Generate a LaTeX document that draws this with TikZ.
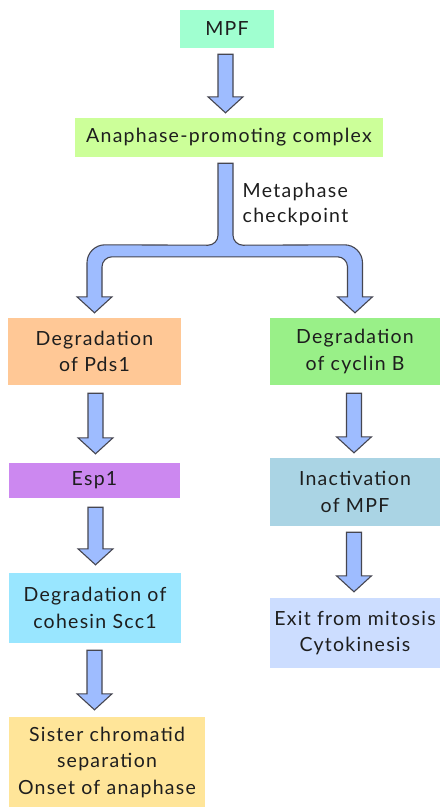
\documentclass[tikz,border=0pt]{standalone}
\usepackage{fontspec}
\setmainfont{Lato}[LetterSpace=6.5]
\usetikzlibrary{calc}
\definecolor{txt}{RGB}{30,30,30}
\definecolor{arrowfill}{RGB}{158,188,255}
\definecolor{arrowline}{RGB}{70,70,80}
\definecolor{cmpf}{RGB}{160,255,208}
\definecolor{capc}{RGB}{204,255,153}
\definecolor{cpds}{RGB}{255,200,150}
\definecolor{ccyc}{RGB}{153,240,136}
\definecolor{cesp}{RGB}{204,136,240}
\definecolor{ccoh}{RGB}{153,230,255}
\definecolor{csis}{RGB}{255,229,153}
\definecolor{cina}{RGB}{170,212,228}
\definecolor{cexit}{RGB}{204,221,255}
\tikzset{
  box/.style={inner sep=0pt, text=txt, align=center, font=\fontsize{19.5}{26.5}\selectfont},
  fatarrow/.style={fill=arrowfill, draw=arrowline, line width=1.1pt, line join=miter},
  fat/.style={fatarrow, to path={let \p1=(\tikztostart), \p2=(\tikztotarget) in
     (\x1-7.5pt,\y1) -- (\x1+7.5pt,\y1) -- (\x1+7.5pt,\y2+16pt) -- (\x1+17.5pt,\y2+16pt)
     -- (\x1,\y2) -- (\x1-17.5pt,\y2+16pt) -- (\x1-7.5pt,\y2+16pt) -- cycle}}
}
\begin{document}
\begin{tikzpicture}[x=1pt,y=-1pt]
\useasboundingbox (0,0) rectangle (440,807);
\fill[white] (0,0) rectangle (440,807);

\node[box, fill=cmpf, minimum width=94pt, minimum height=38pt] (mpf) at (227,29) {MPF};
\node[box, fill=capc, minimum width=308pt, minimum height=39pt] (apc) at (229,137.5) {Anaphase-promoting complex};
\node[box, fill=cpds, minimum width=173pt, minimum height=67pt] (pds) at (94.5,351.5) {Degradation\\of Pds1};
\node[box, fill=ccyc, minimum width=170pt, minimum height=67pt] (cyc) at (355,351.5) {Degradation\\of cyclin B};
\node[box, fill=cesp, minimum width=171pt, minimum height=35pt] (esp) at (94.5,480.5) {Esp1};
\node[box, fill=ccoh, minimum width=172pt, minimum height=70pt] (coh) at (95,608) {Degradation of\\cohesin Scc1};
\node[box, fill=csis, minimum width=196pt, minimum height=90pt] (sis) at (107,762) {Sister chromatid\\separation\\Onset of anaphase};
\node[box, fill=cina, minimum width=170pt, minimum height=68pt] (ina) at (355,492) {Inactivation\\of MPF};
\node[box, fill=cexit, minimum width=170pt, minimum height=70pt] (exit) at (355,633) {Exit from mitosis\\Cytokinesis};

\node[inner sep=0pt, anchor=north west, align=left, text=txt, font=\fontsize{19.5}{25}\selectfont] (mlabel) at (242.5,182.5) {Metaphase\\checkpoint};

\path[fat] ([shift={(-1.5,6)}]mpf.south) to ([shift={(-1.5,-5)}]apc.north);
\path[fat] ([shift={(1,8)}]pds.south) to ([shift={(1,-9)}]esp.north);
\path[fat] ([shift={(1,9)}]esp.south) to ([shift={(1,-8)}]coh.north);
\path[fat] ([shift={(-0.5,7)}]coh.south) to ([shift={(-0.5,-7)}]sis.north);
\path[fat] ([shift={(-1,8)}]cyc.south) to ([shift={(-1,-5)}]ina.north);
\path[fat] ([shift={(-1,6)}]ina.south) to ([shift={(-1,-6)}]exit.north);

\coordinate (s0) at ([xshift=-3.5pt]apc.south);
\coordinate (bl) at (pds.north);
\coordinate (br) at (cyc.north);
\path[fatarrow]
  ($(s0)+(-7.5,6)$) -- ($(s0)+(-7.5,78)$) .. controls ($(s0)+(-7.5,83.5)$) and ($(s0)+(-12,88)$) .. ($(s0)+(-17.5,88)$)
  -- ($(bl)+(10.5,-73)$) .. controls ($(bl)+(0.6,-73)$) and ($(bl)+(-7.5,-64.9)$) .. ($(bl)+(-7.5,-55)$)
  -- ($(bl)+(-7.5,-21)$) -- ($(bl)+(-17.5,-21)$) -- ($(bl)+(0,-5)$) -- ($(bl)+(17.5,-21)$) -- ($(bl)+(7.5,-21)$)
  -- ($(bl)+(7.5,-51)$) .. controls ($(bl)+(7.5,-56.5)$) and ($(bl)+(12,-61)$) .. ($(bl)+(17.5,-61)$)
  -- ($(br)+(-17.5,-61)$) .. controls ($(br)+(-12,-61)$) and ($(br)+(-7.5,-56.5)$) .. ($(br)+(-7.5,-51)$)
  -- ($(br)+(-7.5,-21)$) -- ($(br)+(-17.5,-21)$) -- ($(br)+(0,-5)$) -- ($(br)+(17.5,-21)$) -- ($(br)+(7.5,-21)$)
  -- ($(br)+(7.5,-55)$) .. controls ($(br)+(7.5,-64.9)$) and ($(br)+(-0.6,-73)$) .. ($(br)+(-10.5,-73)$)
  -- ($(s0)+(17.5,88)$) .. controls ($(s0)+(12,88)$) and ($(s0)+(7.5,83.5)$) .. ($(s0)+(7.5,78)$)
  -- ($(s0)+(7.5,6)$) -- cycle;
\end{tikzpicture}
\end{document}
